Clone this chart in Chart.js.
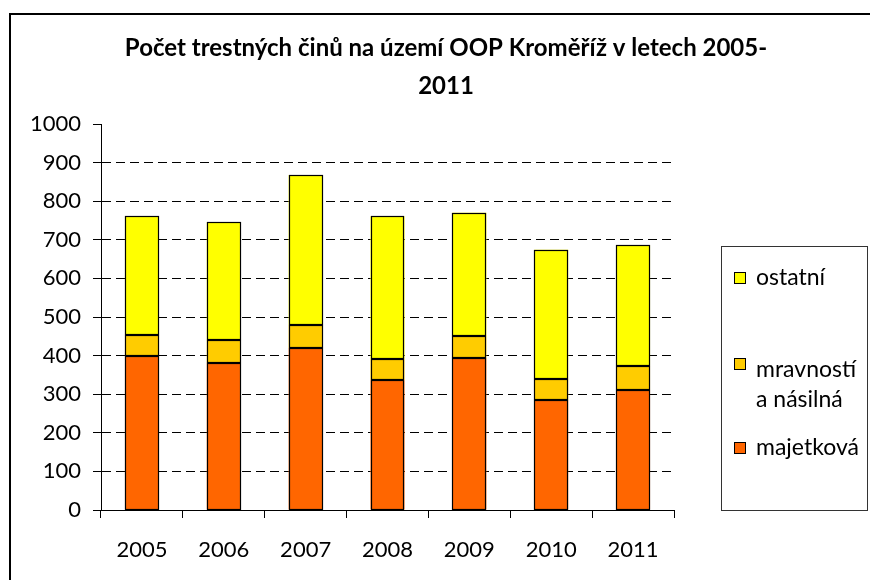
<!DOCTYPE html>
<html><head><meta charset="utf-8">
<script src="https://cdn.jsdelivr.net/npm/chart.js@4/dist/chart.umd.min.js"></script>
<style>html,body{margin:0;padding:0;background:#fff}#wrap{width:870px;height:580px}</style>
</head><body><div id="wrap"><canvas id="c" width="870" height="580"></canvas></div>
<script>
const categories = ['2005','2006','2007','2008','2009','2010','2011'];
const majetkova = [398, 382, 420, 336, 394, 285, 311];
const mravnostni = [56, 59, 60, 54, 56, 55, 63];
const ostatni = [307, 305, 388, 371, 320, 334, 312];
const seriesNames = ['majetková', 'mravností\na násilná', 'ostatní'];
const titleLines = ['Počet trestných činů na území OOP Kroměříž v letech 2005-', '2011'];
const yTicks = [0,100,200,300,400,500,600,700,800,900,1000];

const FONT = 'Lato, "DejaVu Sans", sans-serif';

const framePlugin = {
  id: 'frame',
  afterDraw(chart) {
    const ctx = chart.ctx;
    ctx.save();
    ctx.strokeStyle = '#000';
    ctx.lineWidth = 2;
    ctx.strokeRect(10, 14, 880, 600);
    ctx.fillStyle = '#000';
    ctx.font = 'bold 24px ' + FONT;
    ctx.textAlign = 'center';
    ctx.textBaseline = 'middle';
    titleLines.forEach((t, i) => ctx.fillText(t, 446, 48 + i * 38));
    const lx = 721, ly = 246, lw = 146, lh = 264;
    ctx.lineWidth = 1;
    ctx.strokeStyle = '#333';
    ctx.strokeRect(lx + 0.5, ly + 0.5, lw, lh);
    const ds = chart.data.datasets;
    const order = [2, 1, 0];
    const ys = [278, 370, 448];
    const sq = [278, 364, 448];
    ctx.font = '23px ' + FONT;
    ctx.textAlign = 'left';
    order.forEach((di, k) => {
      const d = ds[di];
      ctx.fillStyle = d.backgroundColor;
      ctx.fillRect(734, sq[k] - 6, 12, 12);
      ctx.lineWidth = 1;
      ctx.strokeStyle = '#000';
      ctx.strokeRect(734.5, sq[k] - 5.5, 11, 11);
      ctx.fillStyle = '#000';
      d.label.split('\n').forEach((ln, j) => ctx.fillText(ln, 756, ys[k] + j * 30));
    });
    // bar outlines drawn from the bar elements' own geometry
    ctx.lineWidth = 1.2;
    ctx.strokeStyle = '#000';
    chart.data.datasets.forEach((d, di) => {
      chart.getDatasetMeta(di).data.forEach(bar => {
        const p = bar.getProps(['x', 'y', 'base', 'width'], true);
        const l = Math.round(p.x - p.width / 2) + 0.5;
        const r = Math.round(p.x + p.width / 2) - 0.5;
        const t = Math.round(Math.min(p.y, p.base)) + 0.5;
        const b = Math.round(Math.max(p.y, p.base)) - 0.5;
        ctx.strokeRect(l, t, r - l, b - t);
      });
    });
    ctx.restore();
  }
};

const mk = (label, data, color) => ({
  label, data, backgroundColor: color, borderWidth: 0,
  barPercentage: 0.415, categoryPercentage: 1.0
});

new Chart(document.getElementById('c'), {
  type: 'bar',
  data: {
    labels: categories,
    datasets: [
      mk(seriesNames[0], majetkova, '#FF6600'),
      mk(seriesNames[1], mravnostni, '#FFCC00'),
      mk(seriesNames[2], ostatni, '#FFFF00')
    ]
  },
  options: {
    responsive: false,
    animation: false,
    devicePixelRatio: 1,
    layout: { padding: { left: 0, right: 196, top: 124, bottom: 0 } },
    plugins: { legend: { display: false }, title: { display: false }, tooltip: { enabled: false } },
    scales: {
      x: {
        stacked: true,
        offset: true,
        grid: { offset: true, drawOnChartArea: false, drawTicks: true, tickLength: 8, color: '#000', tickColor: '#000' },
        border: { color: '#000', width: 1 },
        ticks: { color: '#000', font: { family: FONT, size: 22 }, padding: 19, maxRotation: 0 },
        afterFit(s) { s.height = 70; }
      },
      y: {
        stacked: true,
        min: 0, max: 1000,
        afterBuildTicks(s) { s.ticks = yTicks.map(v => ({ value: v })); },
        grid: {
          color: c => (c.tick && (c.tick.value === 1000 || c.tick.value === 0)) ? 'rgba(0,0,0,0)' : '#000',
          tickColor: '#000', tickLength: 8, tickBorderDash: [], lineWidth: 1
        },
        border: { color: '#000', width: 1, dash: [9, 5] },
        ticks: { color: '#000', font: { family: FONT, size: 22 }, padding: 12, callback: v => String(v) },
        afterFit(s) { s.width = 101; }
      }
    }
  },
  plugins: [framePlugin]
});
</script>
</body></html>
